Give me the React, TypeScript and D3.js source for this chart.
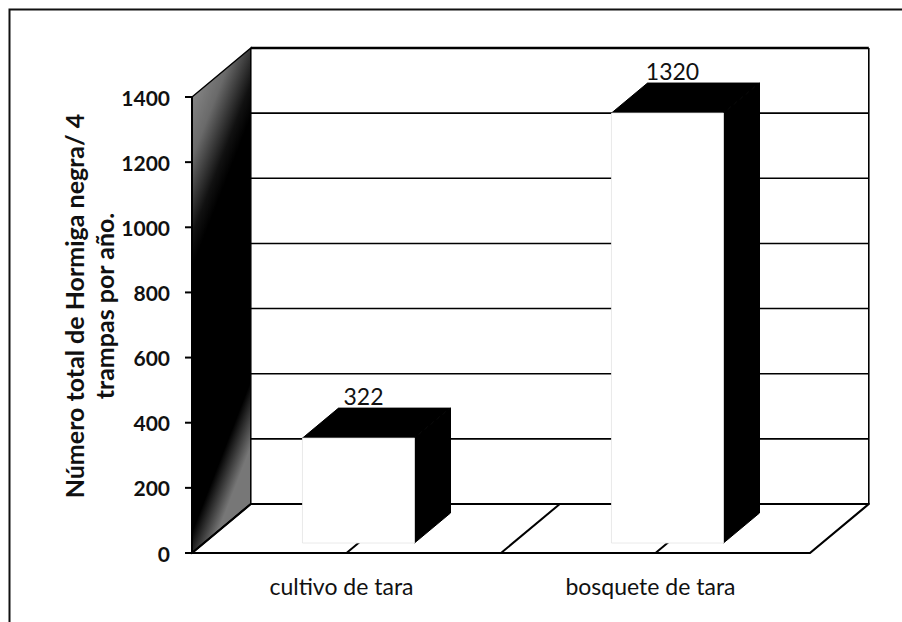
import React from "react";
import * as d3 from "d3";

const categories = ["cultivo de tara", "bosquete de tara"];
const values = [322, 1320];
const yTicks = [0, 200, 400, 600, 800, 1000, 1200, 1400];
const titleLines = ["Número total de Hormiga negra/ 4", "trampas por año."];

const W = 902;
const H = 622;
const DEPTH = 49; // vertical px of floor depth
const KX = 1.2; // horizontal px per depth px
const BAR_D0 = 10;
const BAR_D1 = 40;

export default function App() {
  const y = d3.scaleLinear().domain([0, 1400]).range([553, 97]);
  const x = d3
    .scaleBand<string>()
    .domain(categories)
    .range([192, 810])
    .paddingInner(0.6375)
    .paddingOuter(0.31875);
  const x0 = 192;
  const x1 = 810;
  const step = x.step();

  const P = (px: number, v: number, d: number) => [px + d * KX, y(v) - d];
  const poly = (pts: number[][]) => pts.map((p) => p.join(",")).join(" ");

  const floorXs: number[] = [];
  categories.forEach((c, i) => {
    floorXs.push(x0 + i * step);
    floorXs.push((x(c) as number) + x.bandwidth() / 2);
  });

  const font = "Lato, 'Open Sans', sans-serif";

  return (
    <svg
      width={W}
      height={H}
      style={{ position: "absolute", left: 0, top: 0, background: "#fff" }}
      fontFamily={font}
    >
      <defs>
        <linearGradient id="wall" x1="0" y1="0" x2="0.3" y2="1">
          <stop offset="0" stopColor="#9a9a9a" />
          <stop offset="0.2" stopColor="#6a6a6a" />
          <stop offset="0.34" stopColor="#111" />
          <stop offset="0.4" stopColor="#000" />
          <stop offset="0.88" stopColor="#000" />
          <stop offset="1" stopColor="#777" />
        </linearGradient>
      </defs>
      <rect x={0} y={0} width={W} height={H} fill="#fff" />
      <rect x={9.5} y={9.5} width={1000} height={1000} fill="none" stroke="#111" strokeWidth={2} />

      {/* back wall */}
      <polygon
        points={poly([P(x0, 0, DEPTH), P(x0, 1400, DEPTH), P(x1, 1400, DEPTH), P(x1, 0, DEPTH)])}
        fill="#fff"
      />
      {yTicks.map((t) => {
        const a = P(x0, t, DEPTH);
        const b = P(x1, t, DEPTH);
        return (
          <line
            key={"g" + t}
            x1={a[0]}
            y1={a[1]}
            x2={b[0]}
            y2={b[1]}
            stroke="#000"
            strokeWidth={t === 1400 ? 2.6 : 1.6}
          />
        );
      })}
      {(() => {
        const a = P(x1, 0, DEPTH);
        const b = P(x1, 1400, DEPTH);
        return <line x1={a[0]} y1={a[1]} x2={b[0]} y2={b[1]} stroke="#000" strokeWidth={1.6} />;
      })()}

      {/* left wall */}
      <polygon
        points={poly([P(x0, 0, 0), P(x0, 1400, 0), P(x0, 1400, DEPTH), P(x0, 0, DEPTH)])}
        fill="url(#wall)"
        stroke="#000"
        strokeWidth={1.5}
      />

      {/* floor */}
      <polygon
        points={poly([P(x0, 0, 0), P(x1, 0, 0), P(x1, 0, DEPTH), P(x0, 0, DEPTH)])}
        fill="#fff"
        stroke="#000"
        strokeWidth={2.2}
        strokeLinejoin="round"
      />
      {floorXs.slice(1).map((fx, i) => {
        const a = P(fx, 0, 0);
        const b = P(fx, 0, DEPTH);
        return <line key={"f" + i} x1={a[0]} y1={a[1]} x2={b[0]} y2={b[1]} stroke="#000" strokeWidth={2} />;
      })}
      {(() => {
        const a = P(x0, 0, 0);
        const b = P(x0, 0, DEPTH);
        return <line x1={a[0]} y1={a[1]} x2={b[0]} y2={b[1]} stroke="#000" strokeWidth={1.5} />;
      })()}

      {/* y axis */}
      <line x1={x0} y1={y(0)} x2={x0} y2={y(1400)} stroke="#000" strokeWidth={2} />
      {yTicks.map((t) => (
        <g key={"t" + t}>
          <line x1={x0 - 7} y1={y(t)} x2={x0} y2={y(t)} stroke="#000" strokeWidth={2} />
          <text
            x={170}
            y={y(t)}
            textAnchor="end"
            dominantBaseline="central"
            fontSize={21}
            fontWeight={700}
            fill="#111"
          >
            {t}
          </text>
        </g>
      ))}

      {/* bars */}
      {categories.map((c, i) => {
        const v = values[i];
        const bl = x(c) as number;
        const br = bl + x.bandwidth();
        const top = [P(bl, v, BAR_D0), P(bl, v, BAR_D1), P(br, v, BAR_D1), P(br, v, BAR_D0)];
        const side = [P(br, 0, BAR_D0), P(br, v, BAR_D0), P(br, v, BAR_D1), P(br, 0, BAR_D1)];
        const front = [P(bl, 0, BAR_D0), P(bl, v, BAR_D0), P(br, v, BAR_D0), P(br, 0, BAR_D0)];
        const fc = P((bl + br) / 2, v, BAR_D0);
        const bt = P(bl, v, BAR_D1);
        return (
          <g key={"b" + c}>
            <polygon points={poly(side)} fill="#000" stroke="#000" strokeWidth={1} />
            <polygon points={poly(top)} fill="#000" stroke="#000" strokeWidth={1} />
            <polygon points={poly(front)} fill="#fff" stroke="#e4e4e4" strokeWidth={0.8} />
            <text x={fc[0] + 5} y={bt[1] - 3} textAnchor="middle" fontSize={23} fill="#111">
              {v}
            </text>
          </g>
        );
      })}

      {/* category labels */}
      {categories.map((c) => (
        <text
          key={"c" + c}
          x={(x(c) as number) + x.bandwidth() / 2 - 5}
          y={595}
          textAnchor="middle"
          fontSize={23}
          fill="#111"
        >
          {c}
        </text>
      ))}

      {/* y title */}
      {titleLines.map((l, i) => (
        <text
          key={"yt" + i}
          transform={`translate(${84 + i * 30},306) rotate(-90)`}
          textAnchor="middle"
          fontSize={25}
          fontWeight={700}
          fill="#111"
        >
          {l}
        </text>
      ))}
    </svg>
  );
}
